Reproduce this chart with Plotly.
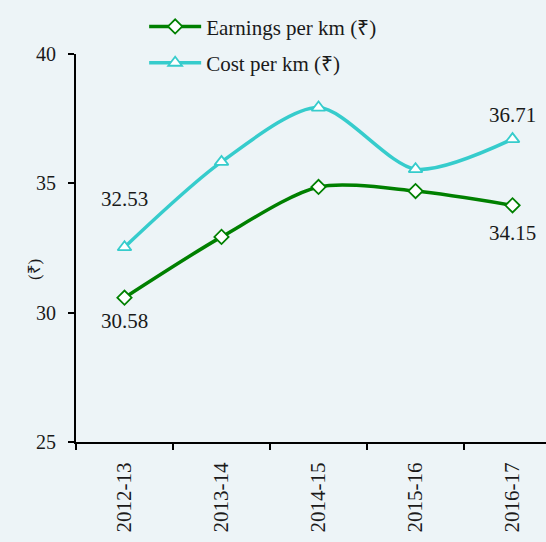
import plotly.graph_objects as go

years = ["2012-13", "2013-14", "2014-15", "2015-16", "2016-17"]
earnings = [30.58, 32.93, 34.86, 34.70, 34.15]
cost = [32.53, 35.83, 37.93, 35.55, 36.71]

FONT = "Times New Roman"
GREEN = "#008000"
CYAN = "#36cccc"
BG = "#edf4f7"
INK = "#1a1a1a"

fig = go.Figure()
fig.add_trace(go.Scatter(
    x=years, y=earnings, name="Earnings per km (₹)", legendgroup="e",
    mode="lines+markers",
    line=dict(color=GREEN, width=3.5, shape="spline", smoothing=0.8),
    marker=dict(symbol="diamond", size=11, color="white",
                line=dict(color=GREEN, width=1.8)),
))
fig.add_trace(go.Scatter(
    x=years, y=cost, name="Cost per km (₹)", legendgroup="c",
    mode="lines+markers",
    line=dict(color=CYAN, width=3.5, shape="spline", smoothing=0.8),
    marker=dict(symbol="triangle-up", size=12, color="white",
                line=dict(color=CYAN, width=1.8)),
))

# value labels on the first and last points
labels = [
    (years[0], cost[0], 48),
    (years[0], earnings[0], -23),
    (years[-1], cost[-1], 24),
    (years[-1], earnings[-1], -28),
]
for x, y, shift in labels:
    fig.add_annotation(x=x, y=y, text=f"{y:.2f}", showarrow=False,
                       yshift=shift, font=dict(family=FONT, size=21, color=INK))

# y-axis title
fig.add_annotation(xref="paper", yref="paper", x=-42 / 470, y=0.443,
                   text="(₹)", textangle=-90, showarrow=False,
                   xanchor="center", yanchor="middle",
                   font=dict(family=FONT, size=17, color=INK))

fig.update_layout(
    width=546, height=542,
    margin=dict(l=76, r=0, t=54, b=100, autoexpand=False),
    paper_bgcolor=BG, plot_bgcolor=BG,
    font=dict(family=FONT, size=20, color=INK),
    showlegend=True,
    legend=dict(x=0.145, y=1.123, xanchor="left", yanchor="top",
                bgcolor="rgba(0,0,0,0)", font=dict(family=FONT, size=21, color=INK),
                itemwidth=52, traceorder="grouped", tracegroupgap=6),
    xaxis=dict(
        type="category", range=[-0.5, 4.345],
        showline=True, linecolor="black", linewidth=2,
        ticks="outside", tickson="boundaries", ticklen=6, tickwidth=2,
        tickcolor="black", tickangle=-90, showgrid=False, zeroline=False,
        tickfont=dict(family=FONT, size=21, color=INK), ticklabelstandoff=10,
    ),
    yaxis=dict(
        range=[25, 40], tickvals=[25, 30, 35, 40],
        showline=True, linecolor="black", linewidth=2,
        ticks="outside", ticklen=6, tickwidth=2, tickcolor="black",
        showgrid=False, zeroline=False,
        tickfont=dict(family=FONT, size=20, color=INK), ticklabelstandoff=8,
    ),
)

fig.write_html("out.html")
